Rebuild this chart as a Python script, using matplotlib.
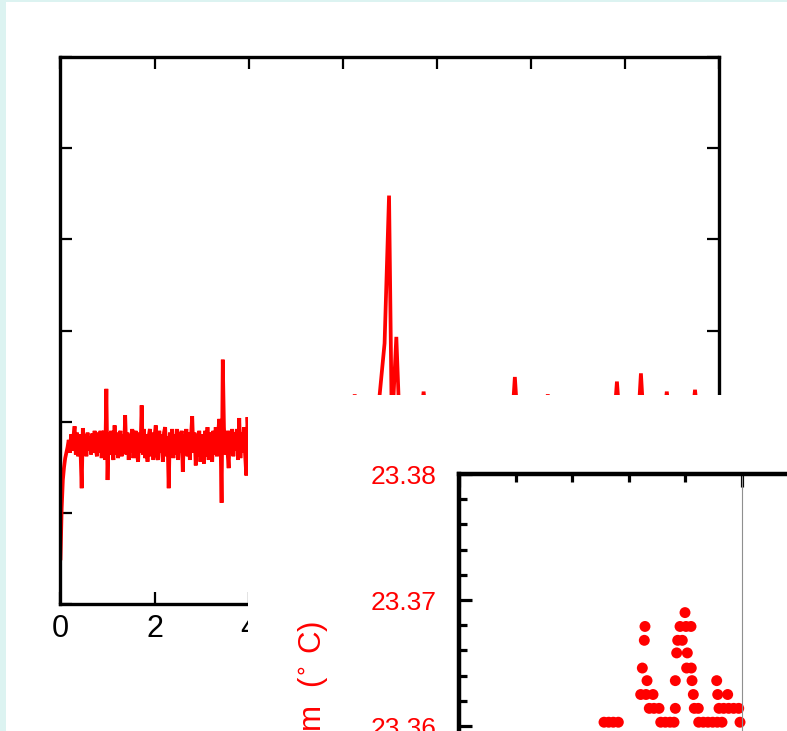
import matplotlib
matplotlib.use("Agg")
import matplotlib.pyplot as plt
from matplotlib.patches import Rectangle
from matplotlib.ticker import MultipleLocator, FormatStrFormatter

plt.rcParams['font.family'] = ['Liberation Sans', 'DejaVu Sans']

W, H = 787, 731

# ---- main trace: early segment, sampled every 0.025 ----
early_step = 0.025
early_vals = [
    0.50, 1.05, 1.36, 1.50, 1.60, 1.66, 1.72, 1.80, 1.66, 1.86,
    1.68, 1.84, 1.95, 1.64, 1.88, 1.62, 1.86, 1.70, 1.27, 1.93,
    1.66, 1.86, 1.62, 1.88, 1.68, 1.84, 1.64, 1.87, 1.66, 1.90,
    1.70, 1.62, 1.88, 1.66, 1.90, 1.60, 1.84, 1.90, 1.58, 2.36,
    1.36, 1.88, 1.64, 1.90, 1.68, 1.58, 1.96, 1.64, 1.88, 1.60,
    1.84, 1.90, 1.62, 1.86, 1.66, 2.07, 1.64, 1.88, 1.58, 1.86,
    1.66, 1.92, 1.60, 1.84, 1.90, 1.64, 1.56, 1.88, 1.66, 2.18,
    1.64, 1.92, 1.60, 1.86, 1.56, 1.84, 1.92, 1.62, 1.88, 1.58,
    1.84, 1.96, 1.64, 1.58, 1.90, 1.66, 1.86, 1.56, 1.88, 1.94,
    1.62, 1.84, 1.27, 1.88, 1.66, 1.92, 1.60, 1.86, 1.64, 1.92,
    1.58, 1.88, 1.66, 1.90, 1.45, 1.86, 1.64, 1.92, 1.62, 1.88,
    1.58, 1.84, 2.06, 1.66, 1.88, 1.52, 1.86, 1.62, 1.90, 1.56,
    1.86, 1.66, 1.54, 1.90, 1.62, 1.94, 1.58, 1.84, 1.88, 1.56,
    1.90, 1.64, 1.94, 1.62, 1.86, 2.03, 1.88, 1.11, 2.68, 1.94,
    1.64, 1.90, 1.68, 1.49, 1.90, 1.66, 1.92, 1.62, 1.88, 1.68,
    1.92, 1.58, 2.04, 1.60, 1.88, 1.66, 1.94, 1.64, 1.41, 2.05,
    1.82,
]
early_x = [i * early_step for i in range(len(early_vals))]

# ---- main trace: later segment ----
late_x = [4.3, 4.7, 5.2, 5.7, 6.1, 6.215, 6.255, 6.295, 6.5, 6.74,
          6.89, 6.985, 7.045, 7.14, 7.21, 7.4, 7.67, 7.72, 7.77, 8.2,
          8.8, 9.3, 9.61, 9.66, 9.71, 10.0, 10.31, 10.36, 10.41, 10.9,
          11.4, 11.78, 11.83, 11.88, 12.1, 12.29, 12.34, 12.39, 12.6, 12.84,
          12.89, 12.94, 13.2, 13.44, 13.49, 13.54, 13.8, 14.0]
late_vals = [1.98, 2.02, 2.00, 2.04, 2.02, 2.05, 2.30, 2.05, 2.00, 2.05,
             2.86, 4.48, 1.90, 2.93, 1.95, 2.05, 2.06, 2.33, 2.06, 2.02,
             2.05, 2.00, 2.08, 2.49, 2.08, 2.02, 2.06, 2.30, 2.06, 2.03,
             2.05, 2.08, 2.44, 2.08, 2.04, 2.08, 2.53, 2.08, 2.03, 2.08,
             2.33, 2.08, 2.05, 2.08, 2.35, 2.08, 2.05, 2.04]

main_xticks = [0, 2, 4, 6, 8, 10, 12, 14]
main_yticks = [0, 1, 2, 3, 4, 5, 6]

# ---- detail panel: temperature readings ----
temp_levels = [23.3690, 23.3679, 23.3668, 23.3658, 23.3646,
               23.3636, 23.3625, 23.3614, 23.3603]
temp_x = [
    [3.993],
    [3.286, 3.905, 4.011, 4.099],
    [3.274, 3.864, 3.945],
    [3.846, 4.034],
    [3.239, 4.022, 4.104],
    [3.322, 3.822, 4.117, 4.553],
    [3.210, 3.304, 3.428, 4.140, 4.571, 4.747],
    [3.362, 3.445, 3.534, 3.822, 4.157, 4.228, 4.594, 4.677, 4.765, 4.853, 4.942],
    [2.562, 2.645, 2.726, 2.815, 3.564, 3.645, 3.728, 3.799,
     4.235, 4.316, 4.399, 4.482, 4.564, 4.647, 4.965],
]
temp_yticks = [23.35, 23.36, 23.37, 23.38]
temp_label = "Temperature at bottom  ($^{\\circ}$ C)"

fig = plt.figure(figsize=(W / 100, H / 100), dpi=100, facecolor='#dcf3f1')
fig.add_artist(Rectangle((6 / W, 0), 1, (H - 2) / H, transform=fig.transFigure,
                         facecolor='white', edgecolor='none', zorder=-10))

# main panel
ax = fig.add_axes([60.5 / W, (H - 604) / H, (719 - 60.5) / W, 547 / H])
ax.set_zorder(0)
ax.plot(early_x + late_x, early_vals + late_vals, color='#ff0000', lw=2.7,
        solid_joinstyle='miter')
ax.set_xlim(0, 14)
ax.set_ylim(0, 6)
ax.set_xticks(main_xticks)
ax.set_yticks(main_yticks)
ax.tick_params(direction='in', top=True, right=True, length=8.6, width=1.6,
               labelleft=False, labelsize=22, pad=7)
for s in ax.spines.values():
    s.set_linewidth(2.4)

# white panel covering the lower right
fig.add_artist(Rectangle((248 / W, 0), 1, (H - 395) / H, transform=fig.transFigure,
                         facecolor='white', edgecolor='none', zorder=1))

# detail panel
ax2 = fig.add_axes([459 / W, (H - 852) / H, 566 / W, 378 / H])
ax2.set_zorder(2)
for lvl, xs in zip(temp_levels, temp_x):
    ax2.scatter(xs, [lvl] * len(xs), s=62, color='#ff0000', edgecolors='none')
ax2.axvline(5, color='#8f8f8f', lw=0.8)
ax2.set_xlim(0, 10)
ax2.set_ylim(23.35, 23.38)
ax2.xaxis.set_major_locator(MultipleLocator(5))
ax2.xaxis.set_minor_locator(MultipleLocator(1))
ax2.set_yticks(temp_yticks)
ax2.yaxis.set_minor_locator(MultipleLocator(0.002))
ax2.yaxis.set_major_formatter(FormatStrFormatter('%.2f'))
ax2.tick_params(which='both', direction='in', top=True, right=True,
                labelbottom=False, width=2.3)
ax2.tick_params(which='major', length=9.5)
ax2.tick_params(which='minor', length=5.8)
ax2.tick_params(axis='y', which='major', labelsize=19, labelcolor='#ff0000', pad=16)
for s in ax2.spines.values():
    s.set_linewidth(3.2)

fig.text(320.5 / W, (H - 621) / H, temp_label, rotation=90, rotation_mode='anchor',
         ha='right', va='baseline', color='#ff0000', fontsize=22.5, zorder=3)

fig.savefig('out.png', dpi=100, facecolor=fig.get_facecolor())
